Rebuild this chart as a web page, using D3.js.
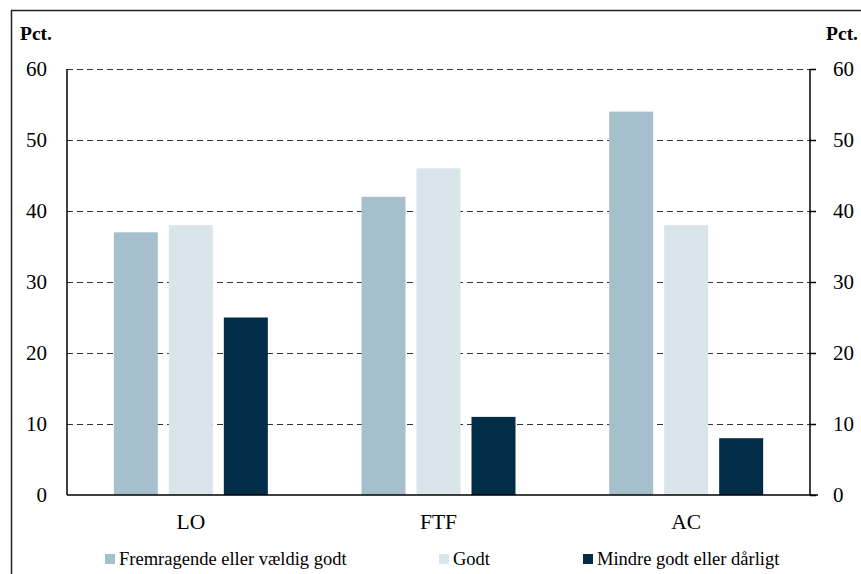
<!DOCTYPE html>
<html><head><meta charset="utf-8">
<script src="https://cdn.jsdelivr.net/npm/d3@7/dist/d3.min.js"></script>
<style>body{margin:0;background:#fff}svg{display:block}text{font-family:"Liberation Serif","DejaVu Serif",serif;fill:#000}</style>
</head><body><svg id="c" width="861" height="574"></svg>
<script>
const categories = ["LO", "FTF", "AC"];
const series = ["Fremragende eller vældig godt", "Godt", "Mindre godt eller dårligt"];
const values = {
  "Fremragende eller vældig godt": [37, 42, 54],
  "Godt": [38, 46, 38],
  "Mindre godt eller dårligt": [25, 11, 8]
};
const yTicks = [0, 10, 20, 30, 40, 50, 60];
const colors = ["#a5bfcd", "#d9e4eb", "#022d49"];

const svg = d3.select("#c");
const L = 67, R = 810, T = 69, B = 495;
const x0 = d3.scaleBand().domain(categories).range([L, R]).padding(0);
const bw = x0.bandwidth();
const x1 = d3.scaleBand().domain(series).range([bw/2 - 77, bw/2 + 77]).paddingInner(0.2).paddingOuter(0);
const y = d3.scaleLinear().domain([0, 60]).range([B, T]);
const color = d3.scaleOrdinal().domain(series).range(colors);

// frame
svg.append("line").attr("x1", 11).attr("x2", 861).attr("y1", 10.5).attr("y2", 10.5).attr("stroke", "#222").attr("stroke-width", 1.5);
svg.append("line").attr("x1", 11.5).attr("x2", 11.5).attr("y1", 10).attr("y2", 574).attr("stroke", "#222").attr("stroke-width", 1.5);

// gridlines
svg.append("g").selectAll("line").data(yTicks.filter(d => d > 0)).join("line")
  .attr("x1", L).attr("x2", R).attr("y1", d => Math.round(y(d)) + 0.5).attr("y2", d => Math.round(y(d)) + 0.5)
  .attr("stroke", "#333").attr("stroke-width", 1.2).attr("stroke-dasharray", "6,4");

// bars
const rows = [];
series.forEach(s => categories.forEach((c, i) => rows.push({s, c, v: values[s][i]})));
svg.append("g").selectAll("rect").data(rows).join("rect")
  .attr("x", d => x0(d.c) + x1(d.s)).attr("width", x1.bandwidth())
  .attr("y", d => y(d.v)).attr("height", d => y(0) - y(d.v))
  .attr("fill", d => color(d.s));

// axes
const left = svg.append("g").attr("transform", `translate(${L},0)`)
  .call(d3.axisLeft(y).tickValues(yTicks).tickSize(0).tickPadding(20).tickFormat(d3.format("d")));
const right = svg.append("g").attr("transform", `translate(${R},0)`)
  .call(d3.axisRight(y).tickValues(yTicks).tickSize(6).tickPadding(17).tickFormat(d3.format("d")));
[left, right].forEach(g => {
  g.select(".domain").attr("stroke", "#000").attr("stroke-width", 1.5);
  g.selectAll(".tick line").attr("stroke", "#000").attr("stroke-width", 1.5);
  g.selectAll("text").style("font-family", '"Liberation Serif", serif').style("font-size", "21px").attr("fill", "#000");
});
left.select(".domain").attr("d", `M0,${T}V${B}`);
right.select(".domain").attr("d", `M0,${T}V${B}`);

const bottom = svg.append("g").attr("transform", `translate(0,${B})`)
  .call(d3.axisBottom(x0).tickSize(0).tickPadding(19));
bottom.select(".domain").attr("d", `M${L},0H${R + 8}`).attr("stroke", "#000").attr("stroke-width", 1.5);
bottom.selectAll("text").style("font-family", '"Liberation Serif", serif').style("font-size", "21.5px").attr("fill", "#000");

// Pct labels
svg.append("text").attr("x", 20).attr("y", 40).style("font-weight", "bold").style("font-size", "19.5px").text("Pct.");
svg.append("text").attr("x", 858).attr("y", 40).attr("text-anchor", "end").style("font-weight", "bold").style("font-size", "19.5px").text("Pct.");

// legend
const legX = [105, 439, 583];
const leg = svg.append("g").selectAll("g").data(series).join("g")
  .attr("transform", (d, i) => `translate(${legX[i]},554)`);
leg.append("rect").attr("width", 10).attr("height", 10).attr("fill", d => color(d));
leg.append("text").attr("x", 14).attr("y", 10.5).style("font-size", "18.5px").text(d => d);
</script></body></html>
